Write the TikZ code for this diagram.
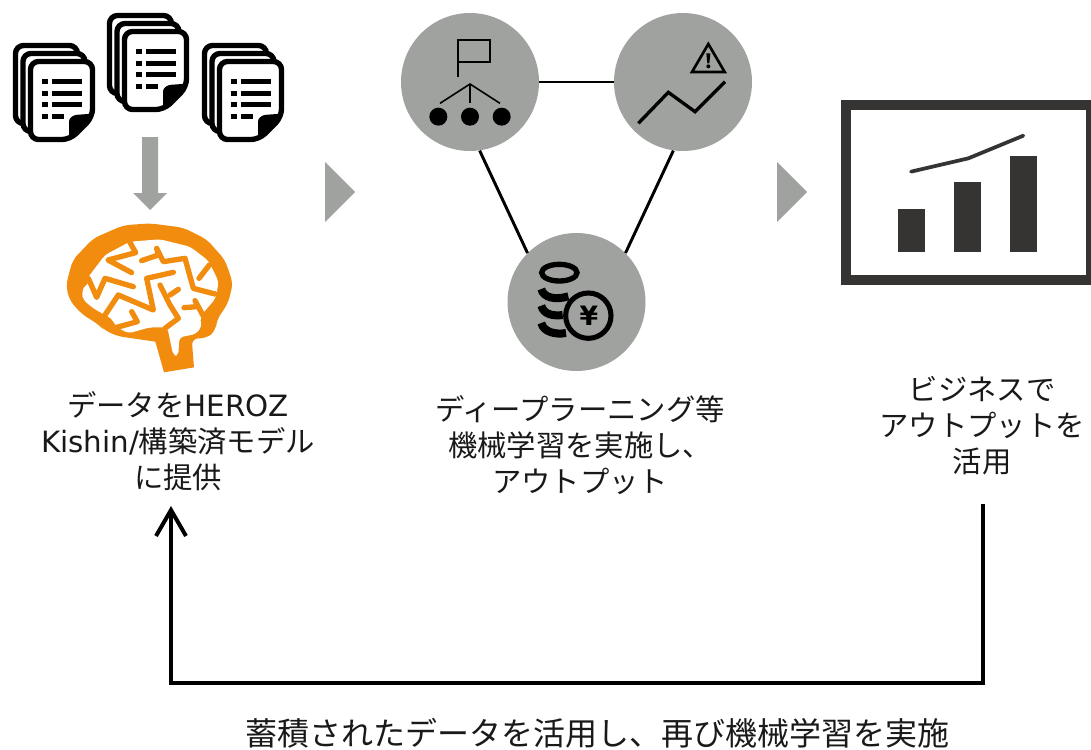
\documentclass[tikz,border=0pt]{standalone}
\usepackage{fontspec}
\setmainfont{Noto Sans CJK JP}
\newfontfamily\lat{DejaVu Sans}
\usepackage{xcolor}
\usetikzlibrary{arrows.meta}
\definecolor{iconGray}{HTML}{A0A2A0}
\definecolor{brainOrange}{HTML}{F28C0F}
\definecolor{chartDark}{HTML}{353432}
\tikzstyle{caption} = [align=center, font=\fontsize{22pt}{27pt}\selectfont, inner sep=0pt, text=black!90]
\tikzstyle{hub} = [circle, fill=iconGray, minimum size=103.5pt, inner sep=0pt]
\tikzstyle{link} = [draw, line width=2.2pt, color=black]
\tikzstyle{loopline} = [draw, line width=3pt, color=black, -{Straight Barb[length=19.5pt, width=22.5pt, line width=3pt]}]
\tikzstyle{step marker} = [fill=iconGray]
\tikzset{
  sheet/.pic={
    \draw [fill=white, line width=4pt, rounded corners=6pt] (2.5,2.5) -- (64.5,2.5) -- (64.5,58) -- (42,80.5) -- (2.5,80.5) -- cycle;
  },
  docstack/.pic={
    \pic at (-15,-16) {sheet};
    \pic at (-7.5,-8) {sheet};
    \pic at (0,0) {sheet};
    \fill [rounded corners=2pt] (41,82.5) -- (41,60) -- (46,56) -- (67,54.5) -- cycle;
    \foreach \row in {0,1,2,3} {
      \fill (14,20+11.67*\row) rectangle (20,25+11.67*\row);
    }
    \foreach \row in {0,1,2} {
      \fill (24,20+11.67*\row) rectangle (54,25+11.67*\row);
    }
    \fill (24,55) rectangle (36,60);
  }
}
\begin{document}
\begin{tikzpicture}[x=0.75pt, y=-0.75pt]
	\useasboundingbox (0,0) rectangle (1091,749);
	% Hubs and links
	\node [hub] (plan) at (470,82) {};
	\node [hub] (risk) at (683,82) {};
	\node [hub] (money) at (576.5,302) {};
	\path [link] (plan) -- (risk);
	\path [link] (plan.-82) -- (money.135);
	\path [link] (risk.-98) -- (money.45);
	% Documents
	\pic at (28,59) {docstack};
	\pic at (122,29) {docstack};
	\pic at (217,59) {docstack};
	% Grey markers
	\fill [step marker] (142,137) -- (158,137) -- (158,193) -- (167,193) -- (150,210) -- (133,193) -- (142,193) -- cycle;
	\fill [step marker] (325,162) -- (355,192) -- (325,222) -- cycle;
	\fill [step marker] (777,162) -- (807,192) -- (777,222) -- cycle;
	% Brain
	\begin{scope}[shift={(50,210)}, x=0.25pt, y=-0.25pt, brainOrange]
		\fill [rounded corners=5pt] (316,395) -- (200,378) -- (160,358) -- (145,343) -- (95,312) -- (58,270) -- (48,225) -- (68,150) -- (130,85) -- (220,46) -- (300,40) -- (400,53) -- (470,88) -- (525,150) -- (549,220) -- (534,280) -- (500,330) -- (497,362) -- (470,385) -- (425,385) [sharp corners] -- (432,472) -- (342,487) -- cycle;
		\fill [white, rounded corners=3pt] (95,250) -- (112,205) -- (165,135) -- (240,95) -- (330,88) -- (420,110) -- (475,152) -- (506,215) -- (497,265) -- (462,306) -- (450,320) -- (455,350) -- (438,372) -- (388,382) -- (385,437) -- (370,437) -- (352,352) -- (300,352) -- (235,370) -- (198,350) -- (185,325) -- (165,315) -- (130,295) -- (100,270) -- cycle;
		\begin{scope}[line width=4pt, line cap=round, line join=round]
			\draw (237,92) -- (257,128) -- (174,150) -- (245,188);
			\draw (98,225) -- (115,205) -- (140,262) -- (165,205) -- (250,230);
			\draw (165,315) -- (205,255) -- (310,300) -- (290,205) -- (370,187);
			\draw (275,152) -- (325,135) -- (320,115) -- (340,155) -- (405,145) -- (430,235) -- (495,252);
			\draw (447,205) -- (478,165);
			\draw (330,225) -- (360,285) -- (385,325) -- (345,355);
			\draw (360,255) -- (385,238);
			\draw (402,293) -- (440,290);
			\draw (435,272) -- (460,318);
			\draw (245,305) -- (262,335) -- (200,352);
		\end{scope}
	\end{scope}
	% Flag tree icon
	\begin{scope}[shift={(390,0)}, x=0.25pt, y=-0.25pt]
		\draw [line width=1.6pt] (205,232) -- (205,120) -- (300,120) -- (300,185) -- (205,185);
		\draw [line width=1.2pt] (150,310) -- (240,252) -- (330,310);
		\draw [line width=1.6pt] (240,252) -- (240,310);
		\foreach \x in {145,240,335} {
			\fill (\x,350) circle [radius=27];
		}
		% Warning icon and trend
		\draw [line width=2pt, line join=miter] (955,132) -- (1004,216) -- (906,216) -- cycle;
		\fill (949,160) -- (961,160) -- (958,190) -- (952,190) -- cycle;
		\fill (955,199) circle [radius=6];
		\draw [line width=2.5pt] (745,370) -- (835,277) -- (915,335) -- (1005,245);
	\end{scope}
	% Coins icon
	\begin{scope}[shift={(500,225)}, x=0.25pt, y=-0.25pt]
		\draw [line width=4pt] (178,143) ellipse [x radius=53, y radius=25];
		\draw [line width=6pt] (124,192) .. controls (130,218) and (165,226) .. (205,214);
		\draw [line width=6pt] (124,242) .. controls (130,268) and (160,274) .. (188,270);
		\draw [line width=6pt] (124,294) .. controls (130,320) and (165,330) .. (198,324);
		\draw [line width=3.8pt, fill=iconGray] (265,272) circle [radius=68];
		\node [inner sep=0pt, font=\lat\bfseries\fontsize{20pt}{20pt}\selectfont] (yen) at (267,272) {¥};
	\end{scope}
	% Chart icon
	\begin{scope}[shift={(830,90)}, x=0.25pt, y=-0.25pt, chartDark]
		\fill (33,30) rectangle (783,585);
		\fill [white] (63,60) rectangle (768,555);
		\fill (203,358) rectangle (285,485);
		\fill (372,277) rectangle (453,485);
		\fill (539,197) rectangle (620,485);
		\draw [line width=2.8pt, line cap=round] (243,245) -- (415,205) -- (580,137);
	\end{scope}
	% Captions
	\node [caption] (provide) at (178,441) {データを{\lat HEROZ}\\{\lat Kishin/}構築済モデル\\に提供};
	\node [caption] (learn) at (580,445) {ディープラーニング等\\機械学習を実施し、\\アウトプット};
	\node [caption] (utilize) at (982,426) {ビジネスで\\アウトプットを\\活用};
	\node [caption, font=\fontsize{24pt}{27pt}\selectfont] (repeat) at (597,733) {蓄積されたデータを活用し、再び機械学習を実施};
	% Feedback loop
	\coordinate (loopstart) at (983,504);
	\coordinate (loopend) at (171,506);
	\path [loopline] (loopstart) -- (983,683) -- (171,683) -- (loopend);
\end{tikzpicture}
\end{document}
